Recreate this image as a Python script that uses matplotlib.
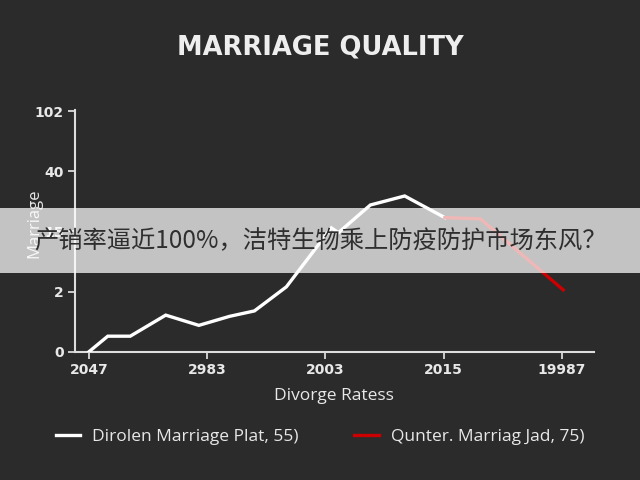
import matplotlib
matplotlib.use("Agg")
import matplotlib.pyplot as plt
from matplotlib.patches import Rectangle

plt.rcParams['font.family'] = ['Open Sans', 'DejaVu Sans']

# ---- data (positions on index scales of the tick labels) ----
x_ticklabels = ["2047", "2983", "2003", "2015", "19987"]
y_ticklabels = ["0", "2", "15", "40", "102"]

white_x = [0.0, 0.16, 0.35, 0.65, 0.93, 1.19, 1.40, 1.67, 2.05, 2.11, 2.38, 2.67, 3.01]
white_y = [0.0, 0.26, 0.26, 0.61, 0.44, 0.59, 0.68, 1.08, 2.06, 1.98, 2.44, 2.59, 2.23]

red_x = [3.01, 3.31, 4.01]
red_y = [2.23, 2.21, 1.03]

white_label = "Dirolen Marriage Plat, 55)"
red_label = "Qunter. Marriag Jad, 75)"
title = "MARRIAGE QUALITY"
xlabel = "Divorge Ratess"
ylabel = "Marriage"
banner_text = "产销率逼近100%，洁特生物乘上防疫防护市场东风？"

bg = "#2b2b2b"
fg = "#e8e8e8"

fig = plt.figure(figsize=(6.4, 4.8), dpi=100, facecolor=bg)
ax = fig.add_axes([0.117, 0.267, 0.811, 0.504], facecolor=bg)

ax.plot(white_x, white_y, color="white", lw=2.4, solid_joinstyle="miter",
        label=white_label, zorder=3)
ax.plot(red_x, red_y, color="#cc0000", lw=2.4, label=red_label, zorder=3)

ax.set_xlim(-0.118, 4.27)
ax.set_ylim(0, 4.02)
ax.set_xticks(range(len(x_ticklabels)))
ax.set_xticklabels(x_ticklabels)
ax.set_yticks(range(len(y_ticklabels)))
ax.set_yticklabels(y_ticklabels)

for s in ["top", "right"]:
    ax.spines[s].set_visible(False)
for s in ["left", "bottom"]:
    ax.spines[s].set_color("#dddddd")
    ax.spines[s].set_linewidth(1.5)
ax.tick_params(colors=fg, length=5, width=1.2, pad=3)
for lab in ax.get_xticklabels() + ax.get_yticklabels():
    lab.set_fontfamily("DejaVu Sans")
    lab.set_fontweight("bold")
    lab.set_fontsize(10)

ax.set_xlabel(xlabel, color=fg, fontsize=12.5, labelpad=8)
ax.set_ylabel(ylabel, color=fg, fontsize=12)
ax.yaxis.set_label_coords(-0.062, 0.53)

fig.text(0.5, 0.9, title, ha="center", va="center", color="#eeeeee",
         fontsize=18.5, fontweight="bold", family="DejaVu Sans")

leg = fig.legend(loc="center", bbox_to_anchor=(0.5, 0.09), ncol=2, frameon=False,
                 fontsize=12.5, labelcolor=fg, handlelength=1.4, columnspacing=3.2,
                 handletextpad=0.7)

# banner overlay
fig.patches.append(Rectangle((0, 1 - 273/480), 1, 65/480, transform=fig.transFigure,
                             facecolor="white", alpha=0.72, edgecolor="none", zorder=10))
fig.text(0.054, 1 - 241/480, banner_text, ha="left", va="center", color="#2f2f2f",
         fontsize=17.5, family=["Noto Sans CJK SC", "DejaVu Sans"], zorder=11)

fig.savefig("out.png", dpi=100, facecolor=bg)
